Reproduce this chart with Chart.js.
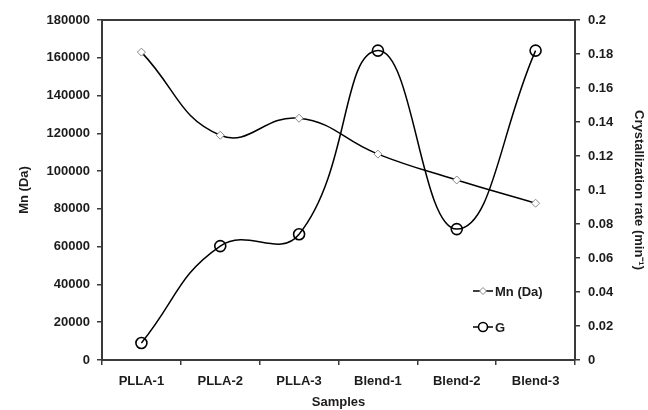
<!DOCTYPE html>
<html lang="en">
<head>
    <meta charset="UTF-8" />
    <title>Mn and crystallization rate</title>
    <style>
        html, body {
            margin: 0;
            padding: 0;
            background: #fff;
        }
    </style>
    <script src="https://cdn.jsdelivr.net/npm/chart.js"></script>
</head>
<body>
<canvas id="mnChart" width="648" height="410"></canvas>

<script>
  const samples = ["PLLA-1", "PLLA-2", "PLLA-3", "Blend-1", "Blend-2", "Blend-3"];
  const mnValues = [163000, 119000, 128000, 109000, 95300, 83000];
  const gValues = [0.010, 0.067, 0.074, 0.182, 0.077, 0.182];

  const ink = "#1c1c1c";
  const axisColor = "#3a3a3a";
  const font = { family: "'Liberation Sans', Arial, sans-serif", size: 13, weight: "bold" };

  // frame line on top + legend drawn inside the plot area
  const framePlugin = {
    id: "frame",
    afterDraw(chart) {
      const ctx = chart.ctx;
      const a = chart.chartArea;
      ctx.save();
      ctx.strokeStyle = axisColor;
      ctx.lineWidth = 2;
      ctx.beginPath();
      ctx.moveTo(a.left, a.top);
      ctx.lineTo(a.right, a.top);
      ctx.stroke();

      const items = [
        { text: "Mn (Da)", y: 291, style: "rectRot", radius: 3.5, color: "#888" },
        { text: "G", y: 327, style: "circle", radius: 4.5, color: "#000" },
      ];
      ctx.font = "bold 13px 'Liberation Sans', Arial, sans-serif";
      ctx.textBaseline = "middle";
      items.forEach((it) => {
        ctx.strokeStyle = "#000";
        ctx.lineWidth = 1.5;
        ctx.beginPath();
        ctx.moveTo(473, it.y);
        ctx.lineTo(493, it.y);
        ctx.stroke();
        ctx.fillStyle = "#fff";
        ctx.strokeStyle = it.color;
        ctx.lineWidth = it.style === "circle" ? 1.6 : 1;
        Chart.helpers.drawPoint(ctx, { pointStyle: it.style, radius: it.radius, borderWidth: ctx.lineWidth }, 483, it.y);
        ctx.fillStyle = ink;
        ctx.fillText(it.text, 495, it.y + 1);
      });
      ctx.restore();
    },
  };

  const ctx = document.getElementById("mnChart").getContext("2d");
  new Chart(ctx, {
    type: "line",
    data: {
      labels: samples,
      datasets: [
        {
          label: "Mn (Da)",
          data: mnValues,
          yAxisID: "y",
          borderColor: "#000",
          borderWidth: 1.5,
          tension: 0.45,
          pointStyle: "rectRot",
          pointRadius: 4,
          pointBorderColor: "#888",
          pointBackgroundColor: "#fff",
          pointBorderWidth: 1,
        },
        {
          label: "G",
          data: gValues,
          yAxisID: "y1",
          borderColor: "#000",
          borderWidth: 1.5,
          tension: 0.45,
          pointStyle: "circle",
          pointRadius: 5.5,
          pointBorderColor: "#000",
          pointBackgroundColor: "rgba(255,255,255,0)",
          pointBorderWidth: 1.6,
        },
      ],
    },
    options: {
      responsive: false,
      animation: false,
      devicePixelRatio: 1,
      layout: { padding: { top: 20, left: 0, right: 0, bottom: 0 } },
      plugins: {
        legend: { display: false },
        tooltip: { enabled: false },
      },
      scales: {
        x: {
          offset: true,
          grid: { drawOnChartArea: false, offset: true, tickLength: 5, color: axisColor, lineWidth: 1.5 },
          border: { color: axisColor, width: 2 },
          ticks: { color: ink, font: font, padding: 9, maxRotation: 0, autoSkip: false },
          title: { display: true, text: "Samples", color: ink, font: font, padding: { top: 0, bottom: 0 } },
          afterFit(scale) { scale.height = 50; },
        },
        y: {
          position: "left",
          min: 0,
          max: 180000,
          grid: { drawOnChartArea: false, tickLength: 5, color: axisColor, lineWidth: 1.5 },
          border: { color: axisColor, width: 2 },
          ticks: { stepSize: 20000, color: ink, font: font, padding: 7, autoSkip: false, callback: (v) => String(v) },
          title: { display: true, text: "Mn (Da)", color: ink, font: font, padding: { top: 17, bottom: 0 } },
          afterFit(scale) { scale.width = 102; },
        },
        y1: {
          position: "right",
          min: 0,
          max: 0.2,
          grid: { drawOnChartArea: false, tickLength: 5, color: axisColor, lineWidth: 1.5 },
          border: { color: axisColor, width: 2 },
          ticks: {
            stepSize: 0.02,
            autoSkip: false,
            color: ink,
            font: font,
            padding: 8,
            callback: (v) => String(Math.round(v * 100) / 100),
          },
          title: { display: true, text: "Crystallization rate (min\u207B\u00B9)", color: ink, font: font, padding: { top: 2, bottom: 0 } },
          afterFit(scale) { scale.width = 73; },
        },
      },
    },
    plugins: [framePlugin],
  });
</script>
</body>
</html>
